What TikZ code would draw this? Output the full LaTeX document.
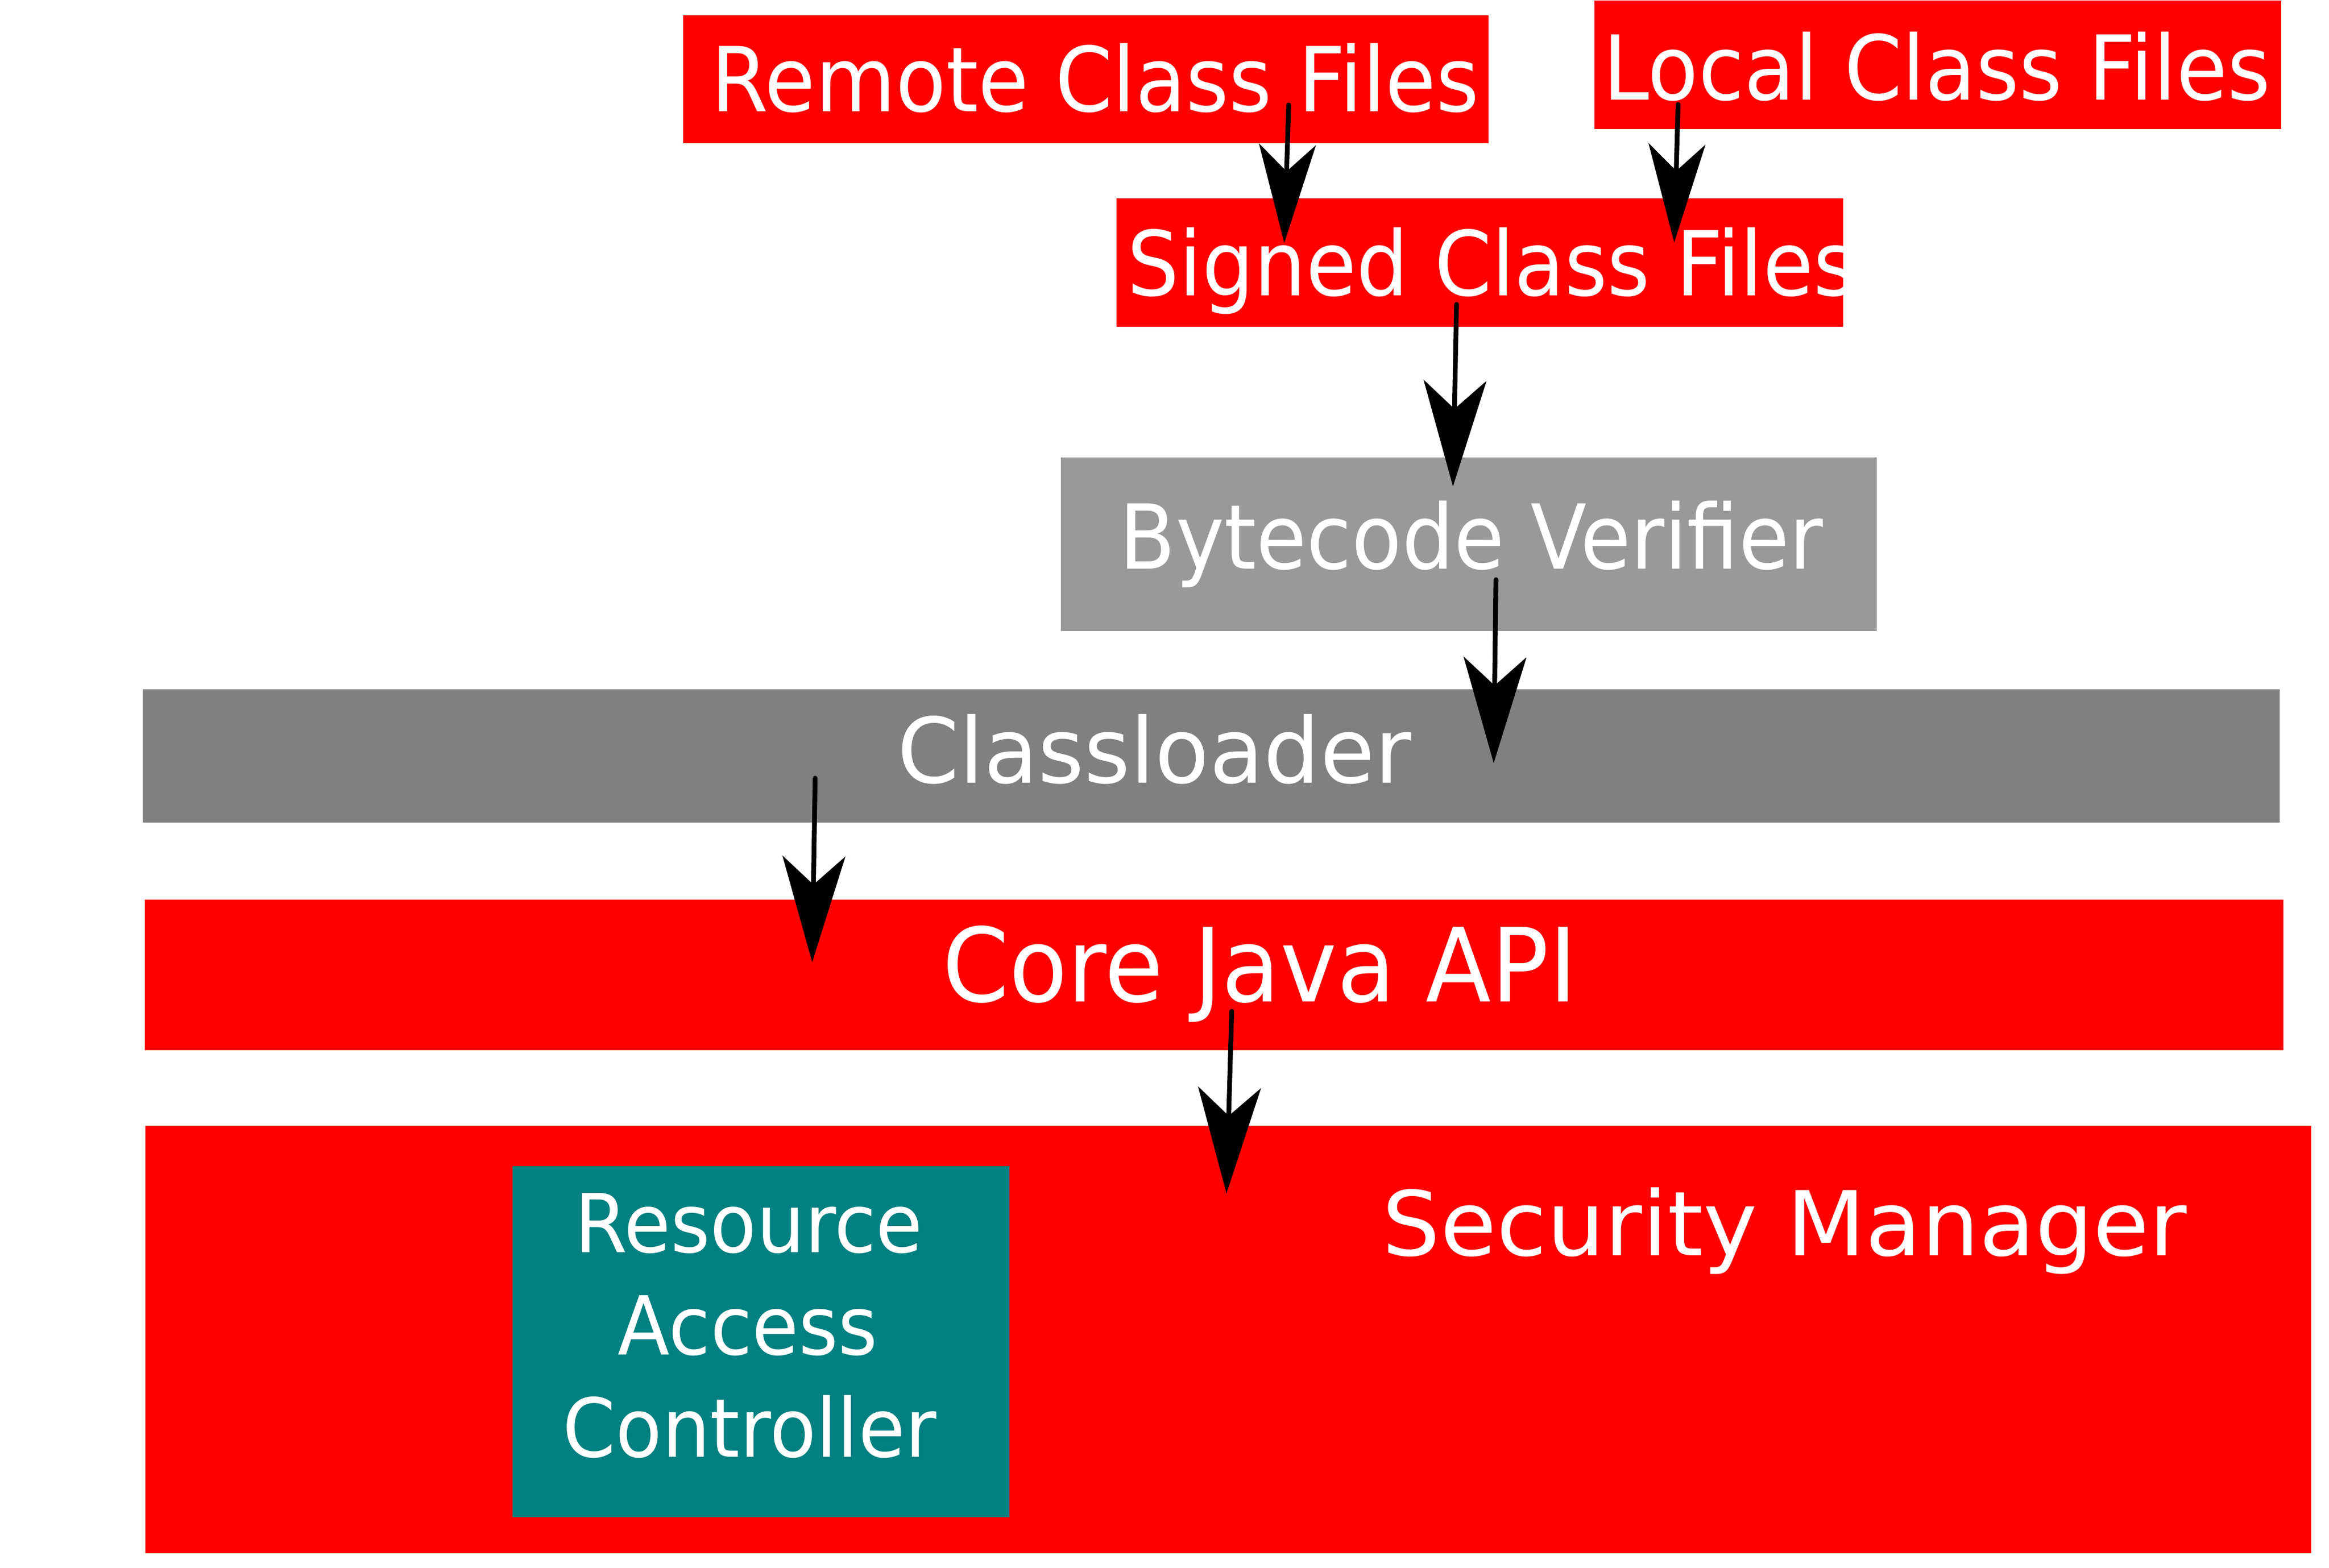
\documentclass[tikz,border=0pt]{standalone}
\usepackage{fontspec}
\setmainfont{DejaVu Sans}
\newfontfamily\fA[FakeStretch=0.915]{DejaVu Sans}
\newfontfamily\fAa[FakeStretch=0.92]{DejaVu Sans}
\newfontfamily\fAb[FakeStretch=0.925]{DejaVu Sans}
\newfontfamily\fAc[FakeStretch=0.933]{DejaVu Sans}
\newfontfamily\fB[FakeStretch=0.98]{DejaVu Sans}
\newfontfamily\fD[FakeStretch=1.02]{DejaVu Sans}
\usetikzlibrary{arrows.meta}
\definecolor{boxred}{HTML}{FF0000}
\definecolor{boxteal}{HTML}{008080}
\definecolor{graylight}{HTML}{999999}
\definecolor{graydark}{HTML}{808080}
\tikzset{
  blk/.style={inner sep=0pt, outer sep=0pt, draw=none},
  lbl/.style={text=white, inner sep=0pt, outer sep=0pt, anchor=base},
  arr/.style={line width=3.2pt, line cap=round, -{Stealth[length=71pt,width=42pt,inset=19pt]}},
  arrs/.style={line width=3.2pt, line cap=round, -{Stealth[length=66pt,width=38pt,inset=18pt]}},
}
\begin{document}
\begin{tikzpicture}[x=1pt,y=-1pt]
\useasboundingbox (0,0) rectangle (1560,1050.4);
\fill[white] (0,0) rectangle (1560,1050.4);
% boxes
\node[blk, fill=boxred, minimum width=539.4pt, minimum height=85.7pt] (remote) at (727.3,53.05) {};
\node[blk, fill=boxred, minimum width=460pt, minimum height=86.1pt] (local) at (1298,43.35) {};
\node[blk, fill=boxred, minimum width=486.5pt, minimum height=86.1pt] (signed) at (991.25,176.05) {};
\node[blk, fill=graylight, minimum width=546.6pt, minimum height=116.6pt] (bytecode) at (983.8,364.6) {};
\node[blk, fill=graydark, minimum width=1431.5pt, minimum height=89.3pt] (classloader) at (811.25,506.55) {};
\node[blk, fill=boxred, minimum width=1432.3pt, minimum height=100.7pt] (core) at (813.15,653.05) {};
\node[blk, fill=boxred, minimum width=1450.7pt, minimum height=286.5pt] (security) at (822.85,897.25) {};
\node[blk, fill=boxteal, minimum width=332.8pt, minimum height=235.1pt] (rac) at (509.9,898.85) {};
% texts
\node[lbl, font=\fAa\fontsize{60}{72}\selectfont] (remotet) at (733.5,74.6) {Remote Class Files};
\node[lbl, font=\fAb\fontsize{60}{72}\selectfont] (localt) at (1297.3,67.1) {Local Class Files};
\begin{scope}
\clip (signed.south west) rectangle (signed.north east);
\node[lbl, anchor=base west, font=\fA\fontsize{60}{72}\selectfont] (signedt) at (755,198.1) {Signed Class Files};
\end{scope}
\node[lbl, font=\fA\fontsize{60}{72}\selectfont] (bytecodet) at (985.5,381.1) {Bytecode Verifier};
\node[lbl, font=\fB\fontsize{60.6}{72}\selectfont] (classloadert) at (773.1,524.5) {Classloader};
\node[lbl, font=\fAc\fontsize{68.6}{80}\selectfont] (coret) at (843.8,671.2) {Core Java API};
\node[lbl, font=\fD\fontsize{60}{72}\selectfont] (securityt) at (1195.4,841.1) {Security Manager};
\node[lbl, font=\fAc\fontsize{54.5}{68}\selectfont] (ract1) at (501.5,838.9) {Resource};
\node[lbl, font=\fAc\fontsize{54.5}{68}\selectfont] (ract2) at (501,907.6) {Access};
\node[lbl, font=\fAc\fontsize{54.5}{68}\selectfont] (ract3) at (502,976.1) {Controller};
% arrow end points
\coordinate (a1s) at (863.2,70.3);  \coordinate (a1e) at (860.2,162.8);
\coordinate (a2s) at (1124,70);     \coordinate (a2e) at (1121.4,162.5);
\coordinate (a3s) at (975.6,203.9); \coordinate (a3e) at (973.2,325.9);
\coordinate (a4s) at (1002,388.3);  \coordinate (a4e) at (1000.5,511.2);
\coordinate (a5s) at (546,521.3);   \coordinate (a5e) at (544,644.6);
\coordinate (a6s) at (825,677.5);   \coordinate (a6e) at (821.5,799.5);
% arrows
\draw[arrs] (a1s) -- (a1e);
\draw[arrs] (a2s) -- (a2e);
\draw[arr] (a3s) -- (a3e);
\draw[arr] (a4s) -- (a4e);
\draw[arr] (a5s) -- (a5e);
\draw[arr] (a6s) -- (a6e);
\end{tikzpicture}
\end{document}
